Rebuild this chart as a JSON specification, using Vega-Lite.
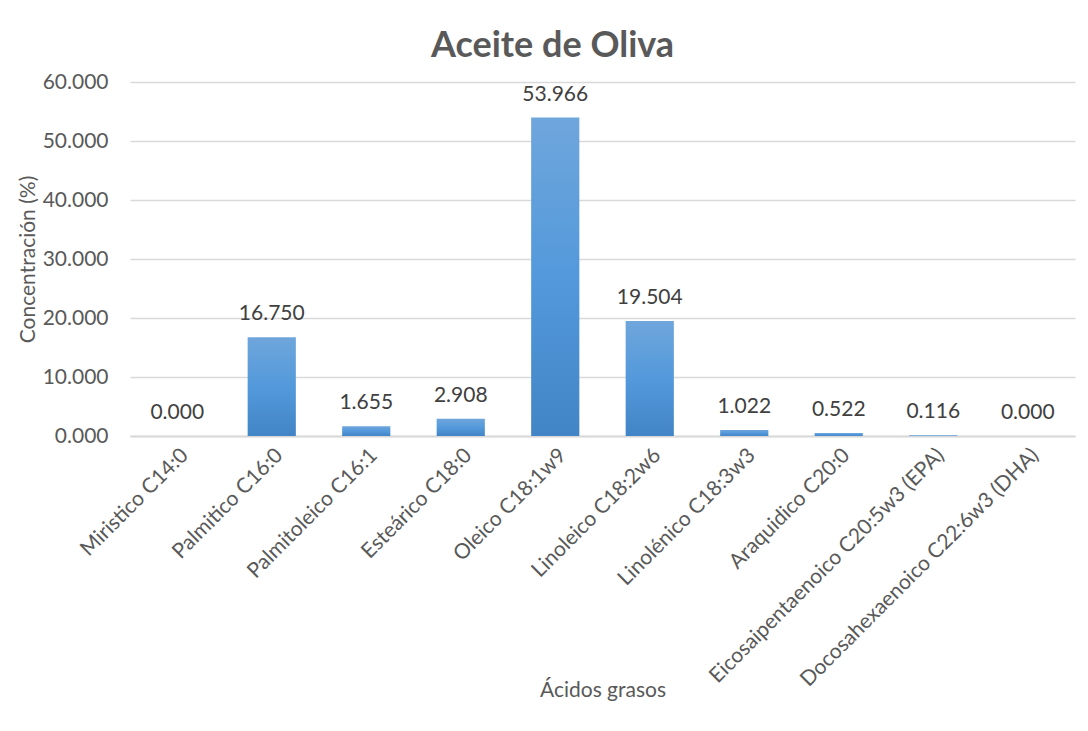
{
  "$schema": "https://vega.github.io/schema/vega-lite/v6.json",
  "autosize": "none",
  "width": 945,
  "height": 354,
  "padding": {"left": 130, "top": 82, "right": 13, "bottom": 295},
  "background": "white",
  "config": {
    "font": "Lato",
    "view": {"stroke": null}
  },
  "title": {
    "text": "Aceite de Oliva",
    "fontSize": 36,
    "fontWeight": "bold",
    "color": "#595959",
    "anchor": "middle",
    "dx": -50,
    "offset": 6
  },
  "data": {
    "values": [
      {"acido": "Miristico C14:0", "valor": 0.000},
      {"acido": "Palmitico C16:0", "valor": 16.750},
      {"acido": "Palmitoleico C16:1", "valor": 1.655},
      {"acido": "Esteárico C18:0", "valor": 2.908},
      {"acido": "Oleico C18:1w9", "valor": 53.966},
      {"acido": "Linoleico C18:2w6", "valor": 19.504},
      {"acido": "Linolénico C18:3w3", "valor": 1.022},
      {"acido": "Araquidico C20:0", "valor": 0.522},
      {"acido": "Eicosaipentaenoico C20:5w3 (EPA)", "valor": 0.116},
      {"acido": "Docosahexaenoico C22:6w3 (DHA)", "valor": 0.000}
    ]
  },
  "encoding": {
    "x": {
      "field": "acido",
      "type": "nominal",
      "sort": null,
      "scale": {"paddingInner": 0.49, "paddingOuter": 0.245},
      "axis": {
        "title": "Ácidos grasos",
        "titleFontSize": 21,
        "titleFontWeight": "normal",
        "titleColor": "#595959",
        "titleY": 254,
        "titleBaseline": "middle",
        "labelAngle": -45,
        "labelFontSize": 21,
        "labelColor": "#595959",
        "labelPadding": 8,
        "labelLimit": 500,
        "ticks": false,
        "domainColor": "#d9d9d9",
        "domainWidth": 2
      }
    },
    "y": {
      "field": "valor",
      "type": "quantitative",
      "scale": {"domain": [0, 60], "nice": false},
      "axis": {
        "title": "Concentración (%)",
        "titleFontSize": 21,
        "titleFontWeight": "normal",
        "titleColor": "#595959",
        "titlePadding": 4,
        "values": [0, 10, 20, 30, 40, 50, 60],
        "format": ".3f",
        "labelFontSize": 21,
        "labelColor": "#595959",
        "labelPadding": 22,
        "ticks": false,
        "domain": false,
        "gridColor": "#d9d9d9",
        "gridWidth": 1.5
      }
    }
  },
  "layer": [
    {
      "mark": {
        "type": "bar",
        "color": {
          "gradient": "linear",
          "x1": 0, "y1": 0, "x2": 0, "y2": 1,
          "stops": [
            {"offset": 0, "color": "#6fa6dc"},
            {"offset": 0.5, "color": "#5399db"},
            {"offset": 1, "color": "#4285c6"}
          ]
        }
      }
    },
    {
      "mark": {
        "type": "text",
        "baseline": "bottom",
        "dy": -13,
        "fontSize": 21,
        "color": "#404040"
      },
      "encoding": {
        "text": {"field": "valor", "type": "quantitative", "format": ".3f"}
      }
    }
  ]
}
